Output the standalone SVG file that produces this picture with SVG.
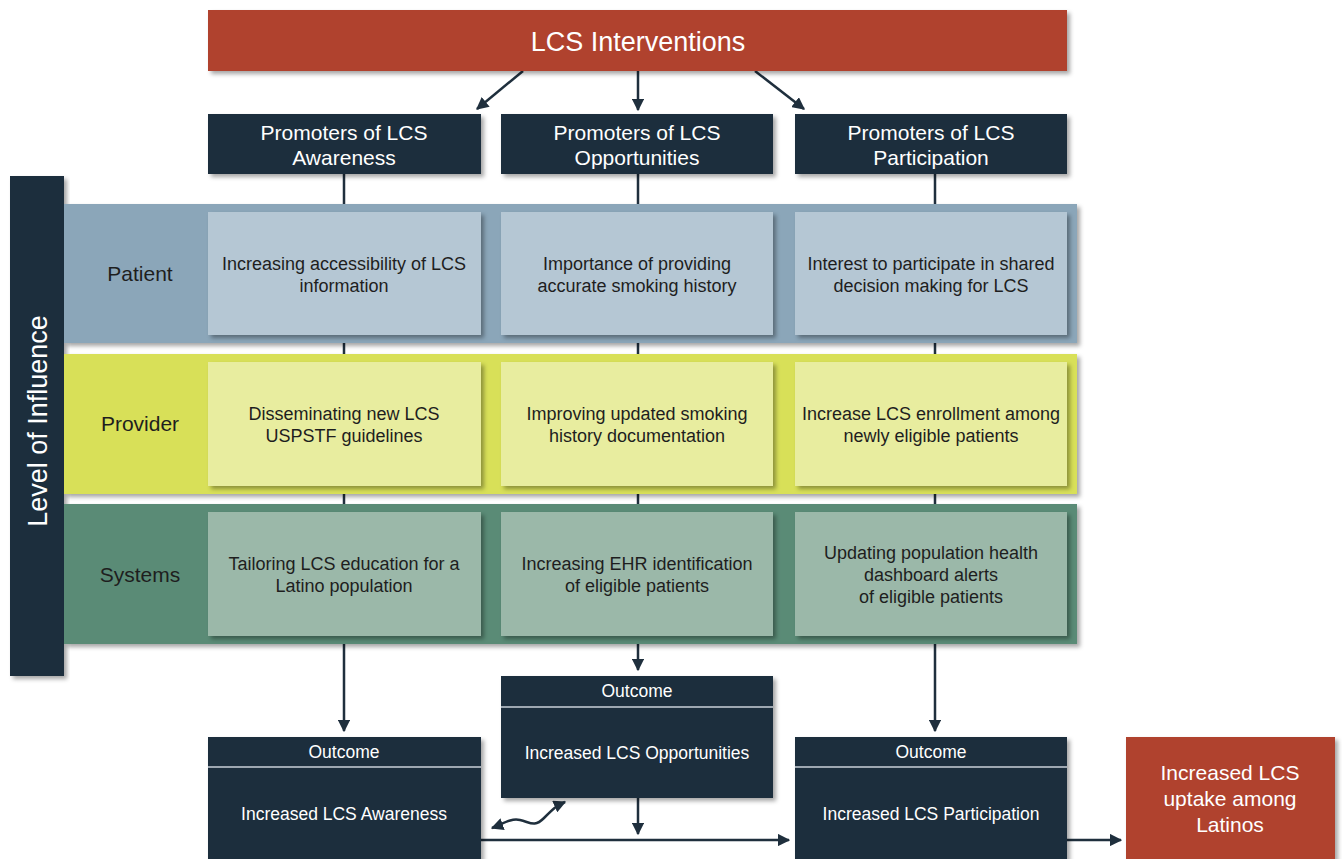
<svg xmlns="http://www.w3.org/2000/svg" width="1342" height="859" viewBox="0 0 1342 859">
<defs>
<filter id="sh" x="-10%" y="-10%" width="120%" height="130%">
<feDropShadow dx="3" dy="3" stdDeviation="2" flood-color="#000" flood-opacity="0.35"/>
</filter>
<marker id="ah" viewBox="0 0 10 10" refX="9" refY="5" markerWidth="5" markerHeight="5" orient="auto-start-reverse" markerUnits="strokeWidth">
<path d="M0,0 L10,5 L0,10 Z" fill="#1f2f3d"/>
</marker>
<style>
.navy{fill:#1f2f3d}
.red{fill:#b0432e}
.t{font-family:"Liberation Sans",Arial,sans-serif;text-anchor:middle}
.w{fill:#ffffff}
.d{fill:#1e1e1e}
.cell{font-size:18px}
.c{stroke:#1f2f3d;stroke-width:2.5;fill:none}
</style>
</defs>
<rect width="1342" height="859" fill="#ffffff"/>

<g id="connectors">
<line class="c" x1="523" y1="71" x2="477" y2="109" marker-end="url(#ah)"/>
<line class="c" x1="638" y1="71" x2="638" y2="110" marker-end="url(#ah)"/>
<line class="c" x1="755" y1="71" x2="804" y2="109" marker-end="url(#ah)"/>
<line class="c" x1="344" y1="174" x2="344" y2="731" marker-end="url(#ah)"/>
<line class="c" x1="638" y1="174" x2="638" y2="670" marker-end="url(#ah)"/>
<line class="c" x1="935" y1="174" x2="935" y2="731" marker-end="url(#ah)"/>
<line class="c" x1="638" y1="798" x2="638" y2="834" marker-end="url(#ah)"/>
<line class="c" x1="481" y1="840" x2="789" y2="840" marker-end="url(#ah)"/>
<line class="c" x1="1067" y1="840" x2="1121" y2="840" marker-end="url(#ah)"/>
<path class="c" d="M492,828 C503,824 510,818 520,820 S534,828 544,818 S556,806 565,802" marker-start="url(#ah)" marker-end="url(#ah)"/>
</g>

<g id="lcs-interventions">
<rect class="red" x="208" y="10" width="859" height="61" filter="url(#sh)"/>
<text class="t w" x="638" y="51" font-size="27">LCS Interventions</text>
</g>

<g id="promoter-awareness">
<rect class="navy" x="208" y="114" width="273" height="60" filter="url(#sh)"/>
<text class="t w" x="344" y="140" font-size="21">Promoters of LCS</text>
<text class="t w" x="344" y="165" font-size="21">Awareness</text>
</g>
<g id="promoter-opportunities">
<rect class="navy" x="501" y="114" width="272" height="60" filter="url(#sh)"/>
<text class="t w" x="637" y="140" font-size="21">Promoters of LCS</text>
<text class="t w" x="637" y="165" font-size="21">Opportunities</text>
</g>
<g id="promoter-participation">
<rect class="navy" x="795" y="114" width="272" height="60" filter="url(#sh)"/>
<text class="t w" x="931" y="140" font-size="21">Promoters of LCS</text>
<text class="t w" x="931" y="165" font-size="21">Participation</text>
</g>

<g id="level-of-influence">
<rect class="navy" x="10" y="176" width="54" height="500" filter="url(#sh)"/>
<text class="t w" x="0" y="0" font-size="27" transform="translate(47,421) rotate(-90)">Level of Influence</text>
</g>

<g id="patient-band">
<rect x="64" y="204" width="1013" height="139" fill="#8ba6b9" filter="url(#sh)"/>
<text class="t d" x="140" y="281" font-size="21">Patient</text>
</g>
<g id="patient-awareness">
<rect x="208" y="212" width="273" height="123" fill="#b5c7d4" filter="url(#sh)"/>
<text class="t d cell" x="344" y="270">Increasing accessibility of LCS</text>
<text class="t d cell" x="344" y="292">information</text>
</g>
<g id="patient-opportunities">
<rect x="501" y="212" width="272" height="123" fill="#b5c7d4" filter="url(#sh)"/>
<text class="t d cell" x="637" y="270">Importance of providing</text>
<text class="t d cell" x="637" y="292">accurate smoking history</text>
</g>
<g id="patient-participation">
<rect x="795" y="212" width="272" height="123" fill="#b5c7d4" filter="url(#sh)"/>
<text class="t d cell" x="931" y="270">Interest to participate in shared</text>
<text class="t d cell" x="931" y="292">decision making for LCS</text>
</g>

<g id="provider-band">
<rect x="64" y="354" width="1013" height="140" fill="#d8e058" filter="url(#sh)"/>
<text class="t d" x="140" y="431" font-size="21">Provider</text>
</g>
<g id="provider-awareness">
<rect x="208" y="362" width="273" height="124" fill="#e8ed9f" filter="url(#sh)"/>
<text class="t d cell" x="344" y="420">Disseminating new LCS</text>
<text class="t d cell" x="344" y="442">USPSTF guidelines</text>
</g>
<g id="provider-opportunities">
<rect x="501" y="362" width="272" height="124" fill="#e8ed9f" filter="url(#sh)"/>
<text class="t d cell" x="637" y="420">Improving updated smoking</text>
<text class="t d cell" x="637" y="442">history documentation</text>
</g>
<g id="provider-participation">
<rect x="795" y="362" width="272" height="124" fill="#e8ed9f" filter="url(#sh)"/>
<text class="t d cell" x="931" y="420">Increase LCS enrollment among</text>
<text class="t d cell" x="931" y="442">newly eligible patients</text>
</g>

<g id="systems-band">
<rect x="64" y="504" width="1013" height="140" fill="#5a8b76" filter="url(#sh)"/>
<text class="t d" x="140" y="582" font-size="21">Systems</text>
</g>
<g id="systems-awareness">
<rect x="208" y="512" width="273" height="124" fill="#9bb8a9" filter="url(#sh)"/>
<text class="t d cell" x="344" y="570">Tailoring LCS education for a</text>
<text class="t d cell" x="344" y="592">Latino population</text>
</g>
<g id="systems-opportunities">
<rect x="501" y="512" width="272" height="124" fill="#9bb8a9" filter="url(#sh)"/>
<text class="t d cell" x="637" y="570">Increasing EHR identification</text>
<text class="t d cell" x="637" y="592">of eligible patients</text>
</g>
<g id="systems-participation">
<rect x="795" y="512" width="272" height="124" fill="#9bb8a9" filter="url(#sh)"/>
<text class="t d cell" x="931" y="559">Updating population health</text>
<text class="t d cell" x="931" y="581">dashboard alerts</text>
<text class="t d cell" x="931" y="603">of eligible patients</text>
</g>

<g id="outcome-awareness">
<rect class="navy" x="208" y="737" width="273" height="130" filter="url(#sh)"/>
<line x1="208" y1="767" x2="481" y2="767" stroke="#c8d0d8" stroke-width="1.5"/>
<text class="t w" x="344" y="758" font-size="17.5">Outcome</text>
<text class="t w" x="344" y="820" font-size="17.5">Increased LCS Awareness</text>
</g>
<g id="outcome-opportunities">
<rect class="navy" x="501" y="676" width="272" height="122" filter="url(#sh)"/>
<line x1="501" y1="707" x2="773" y2="707" stroke="#c8d0d8" stroke-width="1.5"/>
<text class="t w" x="637" y="697" font-size="17.5">Outcome</text>
<text class="t w" x="637" y="759" font-size="17.5">Increased LCS Opportunities</text>
</g>
<g id="outcome-participation">
<rect class="navy" x="795" y="737" width="272" height="130" filter="url(#sh)"/>
<line x1="795" y1="767" x2="1067" y2="767" stroke="#c8d0d8" stroke-width="1.5"/>
<text class="t w" x="931" y="758" font-size="17.5">Outcome</text>
<text class="t w" x="931" y="820" font-size="17.5">Increased LCS Participation</text>
</g>

<g id="uptake">
<rect class="red" x="1126" y="737" width="209" height="130" filter="url(#sh)"/>
<text class="t w" x="1230" y="780" font-size="21">Increased LCS</text>
<text class="t w" x="1230" y="806" font-size="21">uptake among</text>
<text class="t w" x="1230" y="832" font-size="21">Latinos</text>
</g>
</svg>
